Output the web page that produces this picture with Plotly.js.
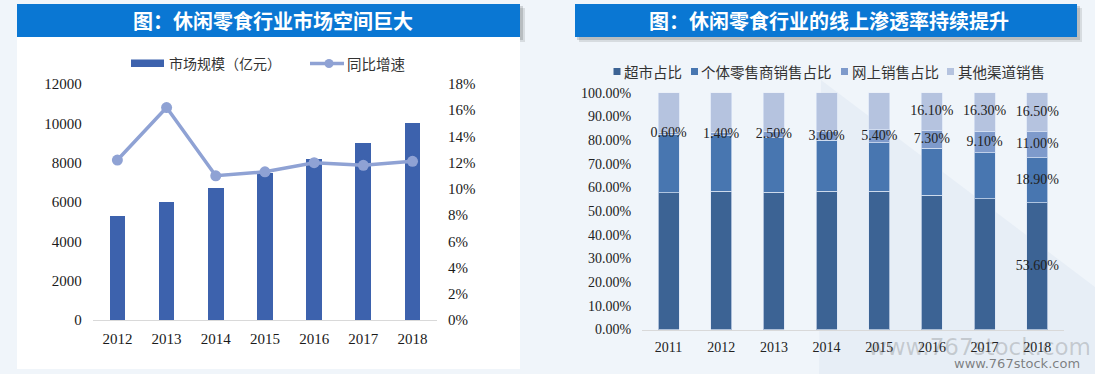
<!DOCTYPE html>
<html>
<head>
<meta charset="utf-8">
<script src="https://cdn.plot.ly/plotly-3.0.1.min.js"></script>
<style>
html,body{margin:0;padding:0;background:#f0f5fa;}
#chart{width:1095px;height:374px;}
</style>
</head>
<body>
<div id="chart"></div>
<script>
// ---------- data ----------
const leftYears = ['2012','2013','2014','2015','2016','2017','2018'];
const marketSize = [5300, 6000, 6700, 7500, 8200, 9000, 10000];   // 亿元
const growthRate = [12.2, 16.2, 11.0, 11.3, 12.0, 11.8, 12.1];     // %

const rightYears = ['2011','2012','2013','2014','2015','2016','2017','2018'];
const supermarketShare = [57.8, 58.4, 57.9, 58.4, 58.4, 56.8, 55.3, 53.6];
const retailerShare    = [24.6, 23.4, 23.1, 21.5, 20.5, 19.8, 19.3, 18.9];
const onlineShare      = [0.6, 1.4, 2.5, 3.6, 5.4, 7.3, 9.1, 11.0];
const otherShare       = [17.0, 16.8, 16.5, 16.5, 15.7, 16.1, 16.3, 16.5];

const supermarketLabelYears = ['2018'];
const retailerLabelYears    = ['2018'];
const onlineLabelYears      = rightYears.slice();
const otherLabelYears       = ['2016','2017','2018'];

const leftTitle  = '图：休闲零食行业市场空间巨大';
const rightTitle = '图：休闲零食行业的线上渗透率持续提升';
const leftLegend = ['市场规模（亿元）', '同比增速'];
const rightLegend = ['超市占比', '个体零售商销售占比', '网上销售占比', '其他渠道销售'];
const watermark = 'www.767stock.com';

// ---------- helpers ----------
const W = 1095, H = 374;
const px = x => x / W;
const py = y => 1 - y / H;

const serif = 'Liberation Serif, Times New Roman, serif';
const cjk = 'Noto Sans CJK SC, sans-serif';

const cBar = '#3d62ad';
const cLine = '#8fa2d4';
const cSuper = '#3c6394';
const cRetail = '#4876b0';
const cOnline = '#7e9acb';
const cOther = '#b5c3df';

// ---------- traces ----------
const traces = [];
traces.push({
  type: 'bar', x: leftYears, y: marketSize, name: leftLegend[0],
  xaxis: 'x', yaxis: 'y', width: 0.32,
  marker: {color: cBar}, hoverinfo: 'x+y'
});
traces.push({
  type: 'scatter', mode: 'lines+markers', x: leftYears, y: growthRate, name: leftLegend[1],
  xaxis: 'x', yaxis: 'y2',
  line: {color: cLine, width: 3.5}, marker: {color: cLine, size: 11}
});

const series = [
  {name: rightLegend[0], vals: supermarketShare, color: cSuper, labels: supermarketLabelYears},
  {name: rightLegend[1], vals: retailerShare, color: cRetail, labels: retailerLabelYears},
  {name: rightLegend[2], vals: onlineShare, color: cOnline, labels: onlineLabelYears},
  {name: rightLegend[3], vals: otherShare, color: cOther, labels: otherLabelYears}
];
series.forEach(s => {
  traces.push({
    type: 'bar', x: rightYears, y: s.vals, name: s.name,
    xaxis: 'x2', yaxis: 'y3', width: 0.4,
    marker: {color: s.color, line: {color: 'rgba(220,230,245,0.7)', width: 1}}
  });
});
// segment labels (centred in their segments)
const base = rightYears.map(() => 0);
series.forEach(s => {
  const lx = [], ly = [], lt = [];
  rightYears.forEach((yr, i) => {
    if (s.labels.includes(yr)) {
      lx.push(yr); ly.push(base[i] + s.vals[i] / 2); lt.push(s.vals[i].toFixed(2) + '%');
    }
  });
  rightYears.forEach((yr, i) => { base[i] += s.vals[i]; });
  traces.push({
    type: 'scatter', mode: 'text', x: lx, y: ly, text: lt,
    xaxis: 'x2', yaxis: 'y3', textposition: 'middle center',
    textfont: {family: serif, size: 14, color: '#222'},
    hoverinfo: 'skip', showlegend: false
  });
});

// ---------- shapes ----------
const shapes = [];
shapes.push({type: 'path', xref: 'paper', yref: 'paper', layer: 'below',
  path: `M ${px(821)} ${py(80)} L ${px(1095)} ${py(287)} L ${px(1095)} ${py(374)} L ${px(819)} ${py(374)} Z`,
  fillcolor: '#e7eef6', line: {width: 0}});
shapes.push({type: 'rect', xref: 'paper', yref: 'paper', layer: 'below',
  x0: px(17), x1: px(520), y0: py(369), y1: py(37), fillcolor: '#ffffff', line: {width: 0}});
function titleBar(x0, x1, y0, y1) {
  shapes.push({type: 'rect', xref: 'paper', yref: 'paper', layer: 'below',
    x0: px(x0 + 4), x1: px(x1 + 5), y0: py(y1 + 5), y1: py(y0 + 4), fillcolor: 'rgba(0,0,0,0.10)', line: {width: 0}});
  shapes.push({type: 'rect', xref: 'paper', yref: 'paper', layer: 'below',
    x0: px(x0 + 2), x1: px(x1 + 3), y0: py(y1 + 3), y1: py(y0 + 2), fillcolor: 'rgba(0,0,0,0.14)', line: {width: 0}});
  shapes.push({type: 'rect', xref: 'paper', yref: 'paper', layer: 'below',
    x0: px(x0), x1: px(x1), y0: py(y1), y1: py(y0), fillcolor: '#0a77d3', line: {width: 0}});
}
titleBar(17, 520, 4, 37);
shapes.push({type: 'rect', xref: 'paper', yref: 'paper', layer: 'below',
  x0: px(17), x1: px(520), y0: py(44), y1: py(37), fillcolor: '#ffffff', line: {width: 0}});
titleBar(575, 1077, 4, 37);

// legend symbols
shapes.push({type: 'rect', xref: 'paper', yref: 'paper',
  x0: px(131), x1: px(164), y0: py(67), y1: py(59.5), fillcolor: cBar, line: {width: 0}});
shapes.push({type: 'line', xref: 'paper', yref: 'paper',
  x0: px(310), x1: px(344), y0: py(63.5), y1: py(63.5), line: {color: cLine, width: 3.5}});
shapes.push({type: 'circle', xref: 'paper', yref: 'paper',
  x0: px(324.5), x1: px(333.5), y0: py(68), y1: py(59), fillcolor: cLine, line: {width: 0}});
const rlX = [613.5, 691, 841, 947];
const rlColors = [cSuper, cRetail, cOnline, cOther];
rlX.forEach((x, i) => {
  shapes.push({type: 'rect', xref: 'paper', yref: 'paper',
    x0: px(x), x1: px(x + 7), y0: py(75), y1: py(68), fillcolor: rlColors[i], line: {width: 0}});
});

// ---------- annotations ----------
const ann = [];
ann.push({xref: 'paper', yref: 'paper', x: px(273), y: py(20.5), text: leftTitle, showarrow: false,
  xanchor: 'center', yanchor: 'middle', font: {family: cjk, size: 20, color: '#ffffff', weight: 'bold'}});
ann.push({xref: 'paper', yref: 'paper', x: px(829), y: py(20.5), text: rightTitle, showarrow: false,
  xanchor: 'center', yanchor: 'middle', font: {family: cjk, size: 20, color: '#ffffff', weight: 'bold'}});
ann.push({xref: 'paper', yref: 'paper', x: px(167), y: py(63), text: leftLegend[0], showarrow: false,
  xanchor: 'left', yanchor: 'middle', font: {family: cjk, size: 14, color: '#333'}});
ann.push({xref: 'paper', yref: 'paper', x: px(345), y: py(63), text: leftLegend[1], showarrow: false,
  xanchor: 'left', yanchor: 'middle', font: {family: cjk, size: 14.5, color: '#333'}});
const rlTextX = [622, 699, 850, 956];
rlTextX.forEach((x, i) => {
  ann.push({xref: 'paper', yref: 'paper', x: px(x), y: py(71), text: rightLegend[i], showarrow: false,
    xanchor: 'left', yanchor: 'middle', font: {family: cjk, size: 14.5, color: '#333'}});
});
// watermarks
ann.push({xref: 'paper', yref: 'paper', x: px(866), y: py(347), text: watermark, showarrow: false,
  xanchor: 'left', yanchor: 'middle', font: {family: 'DejaVu Sans, sans-serif', size: 23, color: 'rgba(90,90,90,0.25)'}});
ann.push({xref: 'paper', yref: 'paper', x: px(952), y: py(363), text: watermark, showarrow: false,
  xanchor: 'left', yanchor: 'middle', font: {family: 'DejaVu Sans, sans-serif', size: 13, color: 'rgba(90,90,90,0.75)'}});

// ---------- layout ----------
const layout = {
  width: W, height: H,
  margin: {l: 0, r: 0, t: 0, b: 0},
  paper_bgcolor: '#f0f5fa',
  plot_bgcolor: 'rgba(0,0,0,0)',
  showlegend: false,
  barmode: 'stack',
  xaxis: {
    domain: [px(92.8), px(437.1)], anchor: 'y', type: 'category',
    showline: true, linecolor: '#d9d9d9', linewidth: 1, showgrid: false, zeroline: false,
    ticks: '', ticklabelstandoff: 5,
    tickfont: {family: serif, size: 15, color: '#1a1a1a'}
  },
  yaxis: {
    domain: [py(320), py(84)], anchor: 'x', range: [0, 12000], dtick: 2000, tickformat: 'd',
    showgrid: false, zeroline: false, showline: false, ticks: '', ticklabelstandoff: 10,
    tickfont: {family: serif, size: 15, color: '#1a1a1a'}
  },
  yaxis2: {
    overlaying: 'y', side: 'right', anchor: 'x', range: [0, 18], dtick: 2, ticksuffix: '%',
    showgrid: false, zeroline: false, showline: false, ticks: '', ticklabelstandoff: 10,
    tickfont: {family: serif, size: 15, color: '#1a1a1a'}
  },
  xaxis2: {
    domain: [px(642.2), px(1063.6)], anchor: 'y3', type: 'category',
    showline: true, linecolor: '#d9d9d9', linewidth: 1, showgrid: false, zeroline: false,
    ticks: '', ticklabelstandoff: 5,
    tickfont: {family: serif, size: 14, color: '#222'}
  },
  yaxis3: {
    domain: [py(329.5), py(92.7)], anchor: 'x2', range: [0, 100], dtick: 10,
    tickformat: '.2f', ticksuffix: '%',
    showgrid: false, zeroline: false, showline: false, ticks: '', ticklabelstandoff: 10,
    tickfont: {family: serif, size: 14, color: '#222'}
  },
  shapes: shapes,
  annotations: ann
};

Plotly.newPlot('chart', traces, layout, {displayModeBar: false, staticPlot: true});
</script>
</body>
</html>
